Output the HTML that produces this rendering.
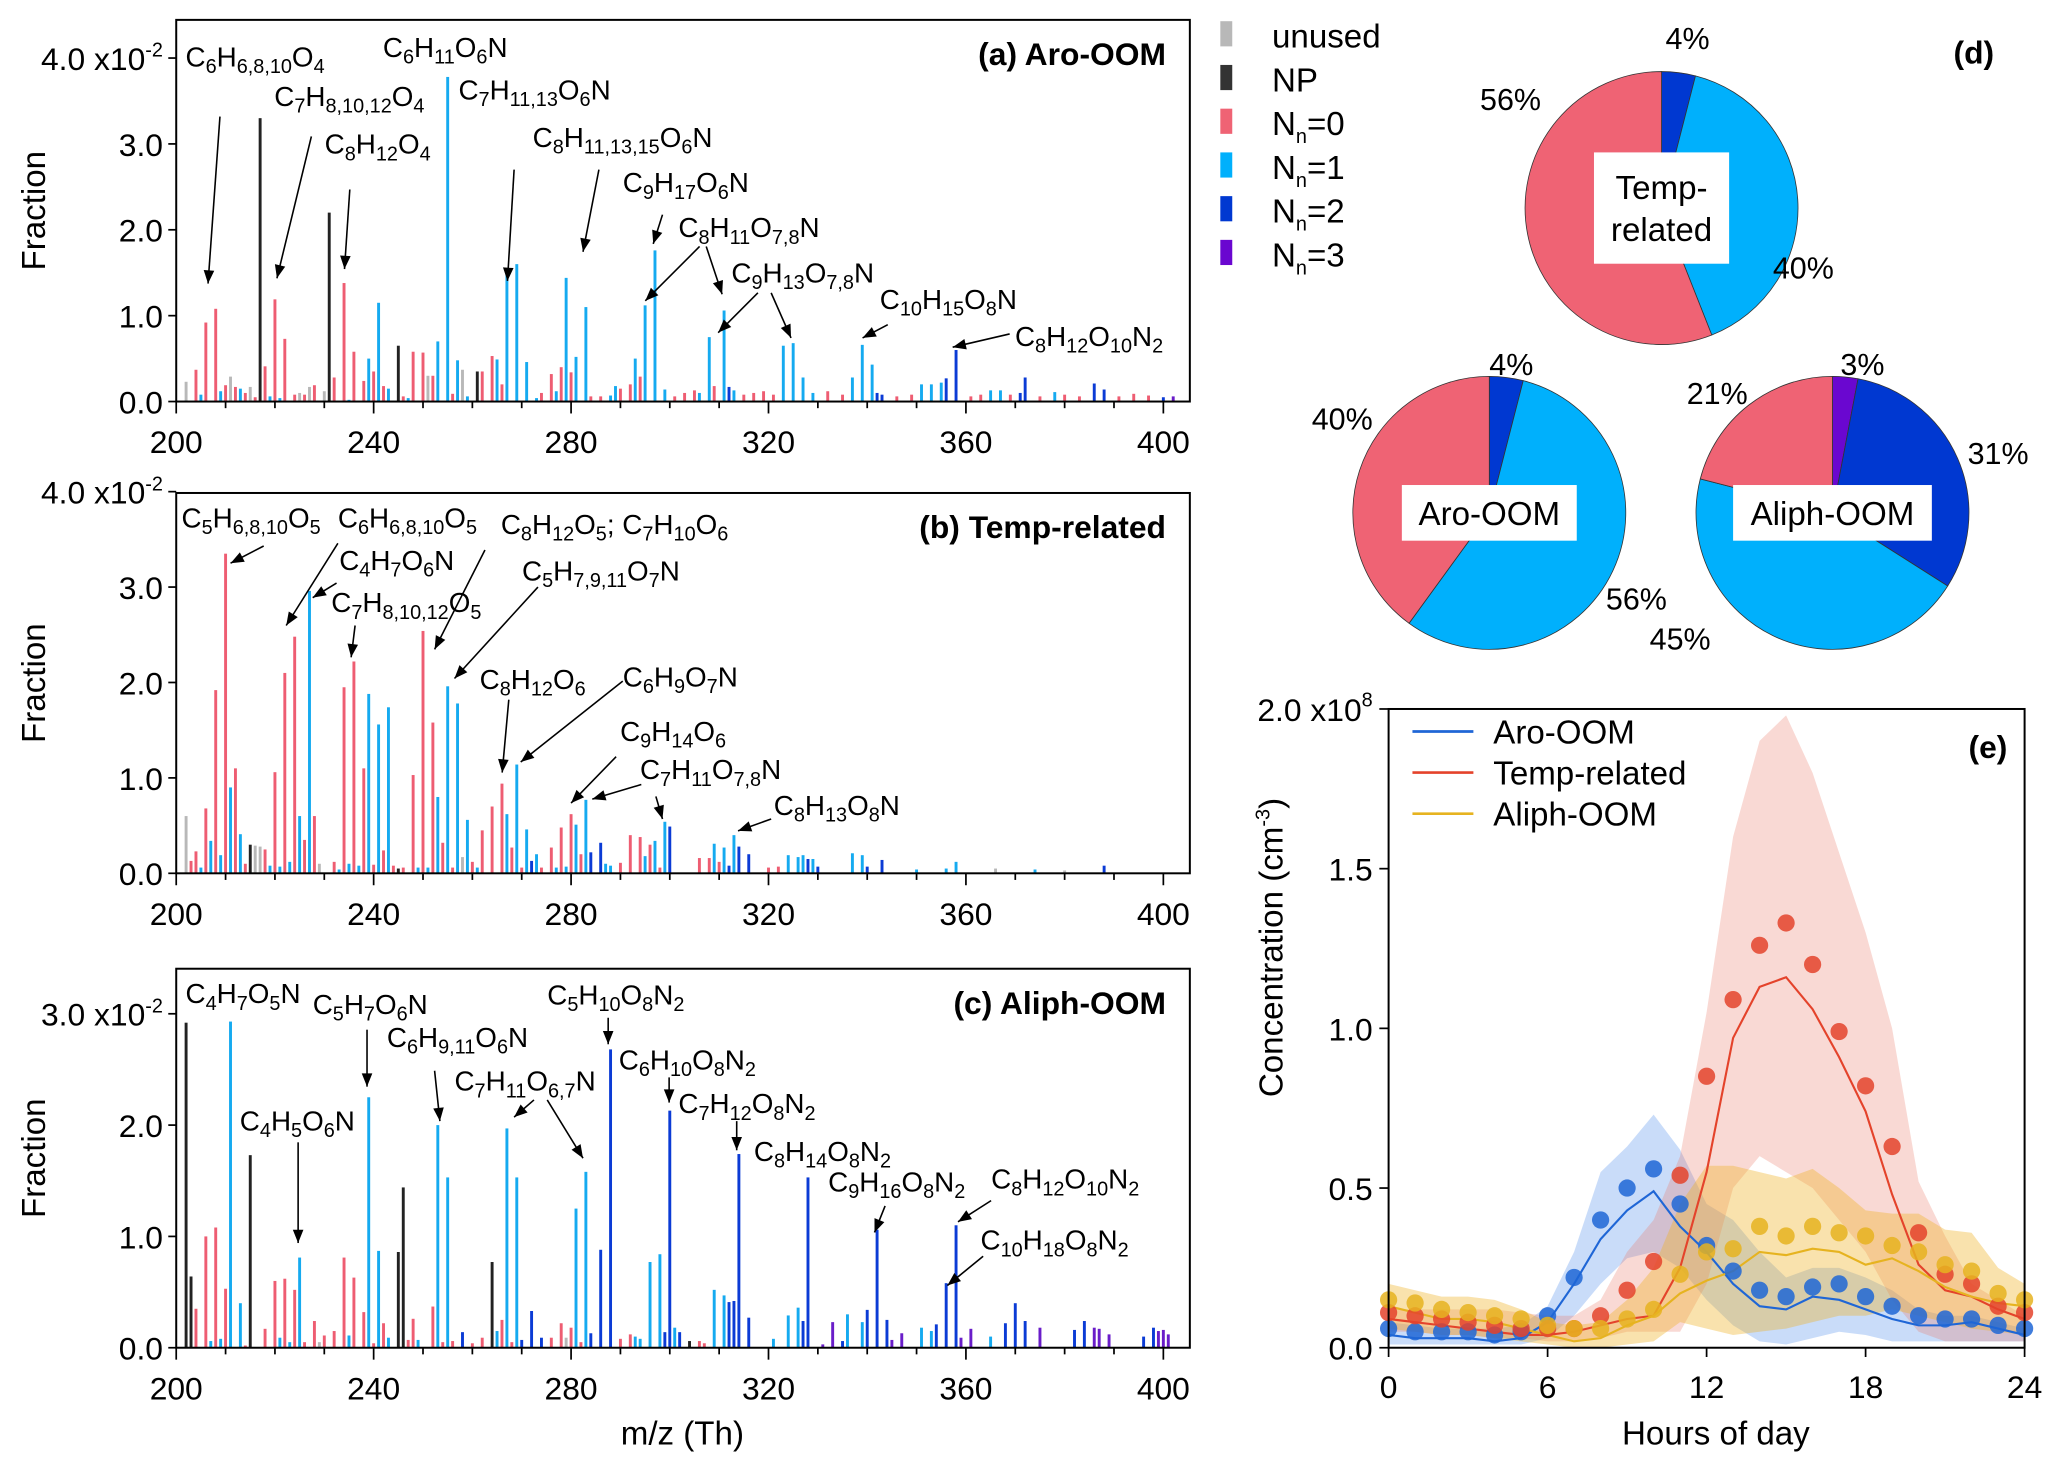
<!DOCTYPE html>
<html><head><meta charset="utf-8"><style>
html,body{margin:0;padding:0;background:#fff;}
svg{display:block;font-family:"Liberation Sans",sans-serif;}
</style></head><body>
<svg id="fig" width="2067" height="1467" viewBox="0 0 1560 1107" preserveAspectRatio="none" xmlns="http://www.w3.org/2000/svg"></svg>
<script>
// ---- spectrum data: m/z, fraction (x1e-2), class: g=unused,k=NP,r=Nn0,l=Nn1,d=Nn2,p=Nn3
const specA_mz=[202,204,205,206,208,209,210,211,212,213, 214,215,216,217,218,219,220,221,222,224, 225,226,227,228,230,231,232,234,235,236, 238,239,240,241,242,243,245,246,247,248, 250,251,252,253,255,256,257,258,259,261, 262,264,265,266,267,269,271,273,274,276, 277,278,279,280,281,283,284,286,288,289, 290,292,293,294,295,297,299,301,303,305, 306,308,309,311,312,313,315,317,319,321, 323,325,327,329,332,335,337,339,341,342, 343,346,349,351,353,355,356,358,361,363, 365,367,369,371,372,375,378,380,383,386, 388,391,394,397,400,402];
const specA_val=[0.23,0.37,0.08,0.92,1.08,0.12,0.19,0.29,0.17,0.15, 0.10,0.17,0.05,3.30,0.41,0.06,1.19,0.04,0.73,0.08, 0.10,0.08,0.17,0.19,0.12,2.20,0.28,1.38,0.02,0.58, 0.24,0.50,0.35,1.15,0.18,0.15,0.65,0.06,0.04,0.58, 0.57,0.30,0.30,0.70,3.78,0.09,0.48,0.37,0.06,0.35, 0.35,0.53,0.49,0.20,1.50,1.60,0.46,0.04,0.10,0.32, 0.12,0.40,1.44,0.34,0.52,1.10,0.06,0.06,0.07,0.18, 0.15,0.20,0.50,0.29,1.12,1.76,0.14,0.06,0.10,0.13, 0.10,0.75,0.18,1.06,0.17,0.13,0.08,0.10,0.12,0.08, 0.65,0.68,0.28,0.10,0.12,0.08,0.28,0.66,0.43,0.10, 0.08,0.06,0.08,0.20,0.20,0.22,0.27,0.60,0.06,0.08, 0.13,0.13,0.08,0.10,0.28,0.06,0.11,0.08,0.06,0.21, 0.14,0.06,0.09,0.07,0.05,0.06];
const specA_cls=["g","r","l","r","r","l","r","g","r","l", "r","g","r","k","r","l","r","l","r","r", "g","r","g","r","g","k","r","r","l","r", "r","l","r","l","r","l","k","r","l","r", "r","g","r","l","l","r","l","g","l","k", "r","r","l","r","l","l","l","l","r","r", "l","r","l","r","l","l","r","r","l","l", "r","r","l","r","l","l","l","r","r","r", "l","l","r","l","d","l","r","r","r","r", "l","l","l","l","r","r","l","l","l","d", "d","r","r","l","l","l","d","d","r","r", "l","l","r","d","d","r","l","r","r","d", "d","r","r","r","d","p"];
const specB_mz=[202,203,204,205,206,207,208,209,210,211, 212,213,214,215,216,217,218,219,220,221, 222,223,224,225,226,227,228,229,232,233, 234,235,236,237,238,239,240,241,242,243, 244,245,246,248,249,250,251,252,253,254, 255,256,257,258,259,260,261,262,264,266, 267,268,269,270,271,272,273,274,276,277, 278,279,280,281,282,283,284,286,287,288, 290,292,294,295,296,297,298,299,300,306, 308,309,310,311,312,313,314,316,320,322, 324,326,327,328,329,330,337,339,340,343, 350,356,358,366,374,380,388];
const specB_val=[0.60,0.13,0.23,0.06,0.68,0.34,1.92,0.19,3.35,0.90, 1.10,0.41,0.10,0.30,0.29,0.28,0.25,0.08,1.06,0.07, 2.10,0.12,2.48,0.60,0.35,2.96,0.60,0.10,0.12,0.04, 1.95,0.10,2.22,0.08,1.10,1.88,0.09,1.56,0.24,1.74, 0.08,0.05,0.06,1.03,0.06,2.54,0.06,1.58,0.80,0.32, 1.96,0.06,1.78,0.17,0.56,0.12,0.06,0.45,0.70,0.94, 0.62,0.27,1.14,0.06,0.46,0.13,0.20,0.06,0.27,0.06, 0.48,0.07,0.62,0.51,0.20,0.77,0.22,0.32,0.10,0.08, 0.11,0.40,0.38,0.18,0.30,0.34,0.06,0.54,0.49,0.16, 0.16,0.31,0.12,0.27,0.08,0.40,0.28,0.20,0.06,0.07, 0.19,0.17,0.19,0.15,0.15,0.07,0.21,0.19,0.07,0.14, 0.04,0.05,0.12,0.05,0.04,0.03,0.08];
const specB_cls=["g","r","r","l","r","l","r","l","r","l", "r","l","r","k","g","g","r","l","r","l", "r","l","r","l","r","l","r","g","r","l", "r","l","r","l","r","l","r","l","r","l", "r","k","r","r","l","r","l","r","l","r", "l","r","l","g","l","r","l","r","r","r", "l","r","l","r","l","d","l","r","r","l", "r","l","r","l","r","l","d","d","l","l", "r","r","r","l","r","l","r","l","d","r", "r","l","r","l","d","l","d","d","r","r", "l","l","l","d","l","d","l","l","d","d", "l","l","l","g","l","g","d"];
const specC_mz=[202,203,204,206,207,208,209,210,211,213, 214,215,218,220,221,222,223,224,225,226, 228,229,230,232,234,235,236,238,239,240, 241,242,243,245,246,247,248,249,252,253, 254,255,256,258,260,262,264,265,266,267, 268,269,270,272,274,276,278,279,280,281, 282,283,284,286,288,290,292,293,294,296, 298,299,300,301,302,304,306,307,309,311, 312,313,314,316,321,324,326,327,328,331, 333,335,336,339,340,342,344,345,347,351, 353,354,356,358,359,361,365,368,370,372, 375,382,384,386,387,389,396,398,399,400, 401];
const specC_val=[2.92,0.64,0.35,1.00,0.06,1.08,0.08,0.53,2.93,0.40, 0.02,1.73,0.17,0.60,0.09,0.62,0.05,0.52,0.81,0.05, 0.24,0.05,0.11,0.15,0.81,0.11,0.63,0.32,2.25,0.04, 0.87,0.22,0.09,0.86,1.44,0.07,0.26,0.07,0.37,2.00, 0.05,1.53,0.06,0.14,0.04,0.09,0.77,0.15,0.25,1.97, 0.05,1.53,0.07,0.33,0.09,0.09,0.22,0.09,0.18,1.25, 0.05,1.58,0.13,0.88,2.68,0.08,0.12,0.10,0.08,0.77, 0.84,0.14,2.13,0.18,0.14,0.06,0.06,0.04,0.52,0.47, 0.41,0.42,1.74,0.27,0.08,0.29,0.36,0.24,1.53,0.03, 0.23,0.06,0.30,0.23,0.34,1.06,0.25,0.07,0.13,0.18, 0.15,0.21,0.58,1.10,0.09,0.17,0.10,0.22,0.40,0.24, 0.18,0.16,0.24,0.18,0.17,0.12,0.10,0.18,0.15,0.16, 0.12];
const specC_cls=["k","k","r","r","l","r","l","r","l","l", "r","k","r","r","l","r","l","r","l","r", "r","g","r","r","r","l","r","r","l","r", "l","r","l","k","k","r","r","l","r","l", "r","l","r","d","r","r","k","l","r","l", "r","l","d","d","d","r","r","g","r","l", "r","l","d","d","d","r","r","l","l","l", "l","d","d","l","d","k","r","r","l","l", "d","d","d","d","l","l","l","d","d","p", "p","d","l","l","d","d","d","p","p","l", "l","d","d","d","p","p","l","d","d","d", "p","d","d","p","p","p","d","d","p","p", "p"];
// ---- diurnal data (1e8 cm^-3)
const hours=[0,1,2,3,4,5,6,7,8,9,10,11,12,13,14,15,16,17,18,19,20,21,22,23,24];
const aroDots=[0.06,0.05,0.05,0.05,0.04,0.05,0.10,0.22,0.40,0.50,0.56,0.45,0.32,0.24,0.18,0.16,0.19,0.20,0.16,0.13,0.10,0.09,0.09,0.07,0.06];
const aroLine=[0.04,0.03,0.03,0.03,0.02,0.03,0.08,0.20,0.34,0.43,0.49,0.38,0.30,0.20,0.13,0.12,0.16,0.15,0.12,0.09,0.07,0.07,0.08,0.06,0.04];
const aroHi=[0.08,0.07,0.06,0.06,0.06,0.07,0.13,0.30,0.55,0.63,0.73,0.62,0.45,0.40,0.30,0.22,0.25,0.25,0.22,0.18,0.12,0.10,0.10,0.08,0.06];
const aroLo=[0.01,0.01,0.01,0.01,0.01,0.01,0.03,0.10,0.20,0.28,0.30,0.25,0.15,0.07,0.02,0.01,0.03,0.05,0.04,0.02,0.02,0.02,0.02,0.02,0.02];
const tmpDots=[0.11,0.10,0.09,0.08,0.07,0.06,0.06,0.06,0.10,0.18,0.27,0.54,0.85,1.09,1.26,1.33,1.20,0.99,0.82,0.63,0.36,0.23,0.20,0.13,0.11];
const tmpLine=[0.09,0.08,0.07,0.06,0.05,0.04,0.04,0.05,0.07,0.09,0.10,0.25,0.55,0.97,1.13,1.16,1.06,0.91,0.74,0.48,0.26,0.18,0.16,0.12,0.09];
const tmpHi=[0.12,0.12,0.12,0.12,0.12,0.11,0.10,0.10,0.15,0.30,0.40,0.60,1.05,1.60,1.90,1.98,1.80,1.55,1.30,1.00,0.52,0.35,0.20,0.15,0.10];
const tmpLo=[0.05,0.05,0.04,0.04,0.03,0.03,0.02,0.02,0.03,0.05,0.05,0.05,0.20,0.50,0.60,0.55,0.50,0.40,0.30,0.15,0.05,0.02,0.02,0.02,0.02];
const aliDots=[0.15,0.14,0.12,0.11,0.10,0.09,0.07,0.06,0.06,0.09,0.12,0.23,0.30,0.31,0.38,0.35,0.38,0.36,0.35,0.32,0.30,0.26,0.24,0.17,0.15];
const aliLine=[0.13,0.11,0.09,0.09,0.08,0.06,0.04,0.02,0.03,0.07,0.10,0.17,0.21,0.24,0.30,0.29,0.31,0.30,0.26,0.28,0.24,0.19,0.16,0.14,0.13];
const aliHi=[0.20,0.18,0.16,0.16,0.15,0.12,0.08,0.07,0.08,0.15,0.25,0.45,0.57,0.57,0.55,0.53,0.56,0.50,0.43,0.42,0.42,0.37,0.36,0.25,0.20];
const aliLo=[0.06,0.05,0.04,0.04,0.03,0.02,0.01,0.00,0.00,0.01,0.02,0.08,0.06,0.04,0.05,0.06,0.08,0.10,0.10,0.12,0.10,0.08,0.06,0.05,0.04];
// ---- pies
const pieTemp=[4,40,56]; const pieTempCls=["d","l","r"];
const pieAro=[4,56,40]; const pieAroCls=["d","l","r"];
const pieAli=[3,31,45,21]; const pieAliCls=["p","d","l","r"];

const NS="http://www.w3.org/2000/svg";
const svg=document.getElementById('fig');
const COL={g:"#b8b8b8",k:"#222222",r:"#ee5d72",l:"#15aaf0",d:"#0b3bd5",p:"#6a1dc9"};
const PIECOL={g:"#b8b8b8",k:"#333",r:"#ef6374",l:"#00b0fc",d:"#0038d1",p:"#6a07d0"};
function el(tag,attrs,parent){const e=document.createElementNS(NS,tag);for(const k in attrs)e.setAttribute(k,attrs[k]);(parent||svg).appendChild(e);return e;}
function fmt(s){return s.replace(/([0-9][0-9,]*)/g,'<tspan dy="5" font-size="15">$1</tspan><tspan dy="-5">\u200b</tspan>');}
function txt(x,y,s,opt,parent){const t=el('text',Object.assign({x:x,y:y,'font-size':22},opt||{}),parent);t.innerHTML=s;return t;}
function arrow(x1,y1,x2,y2,g){el('line',{x1:x1,y1:y1,x2:x2,y2:y2,stroke:'#000','stroke-width':1.2},g);
 const ang=Math.atan2(y2-y1,x2-x1),L=10,W=4;const p=[[x2,y2],[x2-L*Math.cos(ang)+W*Math.sin(ang),y2-L*Math.sin(ang)-W*Math.cos(ang)],[x2-L*Math.cos(ang)-W*Math.sin(ang),y2-L*Math.sin(ang)+W*Math.cos(ang)]];
 el('polygon',{points:p.map(q=>q.join(',')).join(' '),fill:'#000'},g);}

function spectrum(name,frame,mzs,vals,cls,ymaxTick,title,notes){
 const g=el('g',{});
 
 
 const [L,T,R,B,per]=frame;
 const xs=m=>L+(m-200)*(878-133)/200;
 const ys=v=>B-v*per;
 for(let i=0;i<mzs.length;i++){
  const b=el('rect',{x:xs(mzs[i])-1.1,y:ys(vals[i]),width:2.2,height:vals[i]*per,fill:COL[cls[i]]||COL.r},g);
  
  
 }
 el('rect',{x:L,y:T,width:R-L,height:B-T,fill:'none',stroke:'#000','stroke-width':1.5},g);
 for(let m=200;m<=400;m+=10){const maj=m%40===0;el('line',{x1:xs(m),x2:xs(m),y1:B,y2:B+(maj?9:5),stroke:'#000','stroke-width':1.3},g);
  if(maj){const t=txt(xs(m),B+39,String(m),{'text-anchor':'middle','font-size':24},g);}}
 for(let v=0;v<=ymaxTick;v++){el('line',{x1:L-6,x2:L,y1:ys(v),y2:ys(v),stroke:'#000','stroke-width':1.3},g);
  const lab=v===ymaxTick?(v.toFixed(1)+' x10<tspan dy="-10" font-size="15">-2</tspan>'):v.toFixed(1);
  const t=txt(L-10,ys(v)+9,lab,{'text-anchor':'end','font-size':24},g);}
 const yt=txt(0,0,'Fraction',{'font-size':25,transform:`translate(34,${(T+B)/2}) rotate(-90)`,'text-anchor':'middle'},g);
 
 const tt=txt(R-18,T+34,title,{'text-anchor':'end','font-size':24,'font-weight':'bold'},g);
 
 for(const n of notes){const t=txt(n[1],n[2],fmt(n[0]),{'font-size':21},g);
  for(const a of (n[3]||[]))arrow(a[0],a[1],a[2],a[3],g);}
}
spectrum('panel-a-aro-oom',[133,15,898,303,64.8],specA_mz,specA_val,specA_cls,4,'(a) Aro-OOM',[
 ['C6H6,8,10O4',140,50,[[166,88,157,214]]],
 ['C6H11O6N',289,43],
 ['C7H8,10,12O4',207,80,[[235,103,209,210]]],
 ['C8H12O4',245,116,[[264,143,260,203]]],
 ['C7H11,13O6N',346,75,[[388,128,383,212]]],
 ['C8H11,13,15O6N',402,111,[[452,128,440,190]]],
 ['C9H17O6N',470,145,[[500,162,493,184]]],
 ['C8H11O7,8N',512,179,[[528,186,487,227],[533,186,545,222]]],
 ['C9H13O7,8N',552,213,[[572,221,542,251],[582,221,597,255]]],
 ['C10H15O8N',664,233,[[670,245,651,255]]],
 ['C8H12O10N2',766,261,[[762,252,719,262]]]]);
spectrum('panel-b-temp-related',[133,372,898,659,72],specB_mz,specB_val,specB_cls,4,'(b) Temp-related',[
 ['C5H6,8,10O5',137,398,[[199,412,174,425]]],
 ['C6H6,8,10O5',255,398,[[255,410,216,472]]],
 ['C8H12O5; C7H10O6',378,403,[[366,415,328,490]]],
 ['C4H7O6N',256,430,[[254,440,236,451]]],
 ['C5H7,9,11O7N',394,438,[[406,443,343,512]]],
 ['C7H8,10,12O5',250,462,[[268,472,265,496]]],
 ['C8H12O6',362,520,[[384,528,379,583]]],
 ['C6H9O7N',470,518,[[470,514,393,575]]],
 ['C9H14O6',468,559,[[465,571,431,606]]],
 ['C7H11O7,8N',483,588,[[484,592,447,603],[495,601,500,618]]],
 ['C8H13O8N',584,615,[[582,618,557,627]]]]);
spectrum('panel-c-aliph-oom',[133,731,898,1017,84],specC_mz,specC_val,specC_cls,3,'(c) Aliph-OOM',[
 ['C4H7O5N',140,757],
 ['C5H7O6N',236,765,[[277,777,277,820]]],
 ['C6H9,11O6N',292,790,[[328,808,332,846]]],
 ['C7H11O6,7N',343,823,[[403,830,388,843],[413,830,440,874]]],
 ['C4H5O6N',181,853,[[225,862,225,938]]],
 ['C5H10O8N2',413,758,[[459,768,459,788]]],
 ['C6H10O8N2',467,807,[[505,813,505,832]]],
 ['C7H12O8N2',512,840,[[556,846,556,868]]],
 ['C8H14O8N2',569,876],
 ['C9H16O8N2',625,899,[[668,910,660,930]]],
 ['C8H12O10N2',748,897,[[748,906,723,922]]],
 ['C10H18O8N2',740,943,[[742,948,715,970]]]]);
{const t=txt(515,1090,'m/z (Th)',{'text-anchor':'middle','font-size':25});}

// legend
const legItems=[['g','unused'],['k','NP'],['r','N<tspan dy="6" font-size="15">n</tspan><tspan dy="-6">=0</tspan>'],['l','N<tspan dy="6" font-size="15">n</tspan><tspan dy="-6">=1</tspan>'],['d','N<tspan dy="6" font-size="15">n</tspan><tspan dy="-6">=2</tspan>'],['p','N<tspan dy="6" font-size="15">n</tspan><tspan dy="-6">=3</tspan>']];
legItems.forEach((it,i)=>{const y=27+i*33;const g=el('g',{});
 
 
 el('rect',{x:921,y:y-11,width:9,height:19,fill:PIECOL[it[0]]},g);txt(960,y+9,it[1],{'font-size':25},g);});

// pies
function pie(name,cx,cy,r,vals,cls,labels,boxLines,bw,bh){
 const g=el('g',{});
 
 
 const tot=vals.reduce((a,b)=>a+b,0);let a0=0;
 vals.forEach((v,i)=>{const a1=a0+v/tot*2*Math.PI;
  const x0=cx+r*Math.sin(a0),y0=cy-r*Math.cos(a0),x1=cx+r*Math.sin(a1),y1=cy-r*Math.cos(a1);
  const p=el('path',{d:`M${cx},${cy} L${x0},${y0} A${r},${r} 0 ${a1-a0>Math.PI?1:0} 1 ${x1},${y1} Z`,fill:PIECOL[cls[i]],stroke:'#333','stroke-width':0.6},g);
  
  
  a0=a1;});
 for(const l of labels)txt(l[1],l[2],l[0],{'font-size':23},g);
 el('rect',{x:cx-bw/2,y:cy-bh/2,width:bw,height:bh,fill:'#fff'},g);
 boxLines.forEach((s,i)=>txt(cx,cy-(boxLines.length-1)*16+i*32+9,s,{'font-size':25,'text-anchor':'middle'},g));
}
pie('pie-temp-related',1254,157,103,pieTemp,pieTempCls,[['4%',1257,37],['56%',1117,83],['40%',1338,210]],['Temp-','related'],102,84);
pie('pie-aro-oom',1124,387,103,pieAro,pieAroCls,[['4%',1124,283],['40%',990,324],['56%',1212,460]],['Aro-OOM'],132,42);
pie('pie-aliph-oom',1383,387,103,pieAli,pieAliCls,[['3%',1389,283],['21%',1273,305],['31%',1485,350],['45%',1245,490]],['Aliph-OOM'],150,42);
{const t=txt(1505,48,'(d)',{'font-size':24,'font-weight':'bold','text-anchor':'end'});}

// diurnal panel
{const g=el('g',{});
 
 
 const L=1048,R=1528,T=535,B=1017;
 const xs=h=>L+h*(R-L)/24, ys=v=>B-v*(B-T)/2;
 const series=[[aroDots,aroLine,aroHi,aroLo,'#1f66d6','rgba(60,130,235,0.28)','aro-oom'],[tmpDots,tmpLine,tmpHi,tmpLo,'#e4432b','rgba(235,120,100,0.28)','temp-related'],[aliDots,aliLine,aliHi,aliLo,'#e6b320','rgba(240,180,40,0.38)','aliph-oom']];
 for(const s of series){let d='';hours.forEach((h,i)=>d+=(i?'L':'M')+xs(h)+','+ys(s[2][i]));for(let i=hours.length-1;i>=0;i--)d+='L'+xs(hours[i])+','+ys(s[3][i]);
  const p=el('path',{d:d+'Z',fill:s[5]},g);}
 for(const s of series){const p=el('polyline',{points:hours.map((h,i)=>xs(h)+','+ys(s[1][i])).join(' '),fill:'none',stroke:s[4],'stroke-width':1.6},g);
  }
 for(const s of series){hours.forEach((h,i)=>{const c=el('circle',{cx:xs(h),cy:ys(s[0][i]),r:6.5,fill:s[4],'fill-opacity':0.85},g);
  });}
 el('rect',{x:L,y:T,width:R-L,height:B-T,fill:'none',stroke:'#000','stroke-width':1.5},g);
 [0,6,12,18,24].forEach(h=>{el('line',{x1:xs(h),x2:xs(h),y1:B,y2:B+7,stroke:'#000','stroke-width':1.3},g);txt(xs(h),B+38,String(h),{'text-anchor':'middle','font-size':24},g);});
 [0,0.5,1,1.5,2].forEach(v=>{el('line',{x1:L-7,x2:L,y1:ys(v),y2:ys(v),stroke:'#000','stroke-width':1.3},g);
  txt(L-12,ys(v)+9,v===2?'2.0 x10<tspan dy="-11" font-size="15">8</tspan>':v.toFixed(1),{'text-anchor':'end','font-size':24},g);});
 txt(0,0,'Concentration (cm<tspan dy="-10" font-size="15">-3</tspan><tspan dy="10">)</tspan>',{'font-size':25,'text-anchor':'middle',transform:'translate(968,715) rotate(-90)'},g);
 txt(1295,1090,'Hours of day',{'font-size':25,'text-anchor':'middle'},g);
 txt(1515,572,'(e)',{'font-size':24,'font-weight':'bold','text-anchor':'end'},g);
 [['Aro-OOM','#1f66d6'],['Temp-related','#e4432b'],['Aliph-OOM','#e6b320']].forEach((l,i)=>{const y=552+i*31;
  const lg=el('g',{},g);
  
  
  el('line',{x1:1066,x2:1112,y1:y,y2:y,stroke:l[1],'stroke-width':2},lg);txt(1127,y+9,l[0],{'font-size':25},lg);});
}
</script>
</body></html>
